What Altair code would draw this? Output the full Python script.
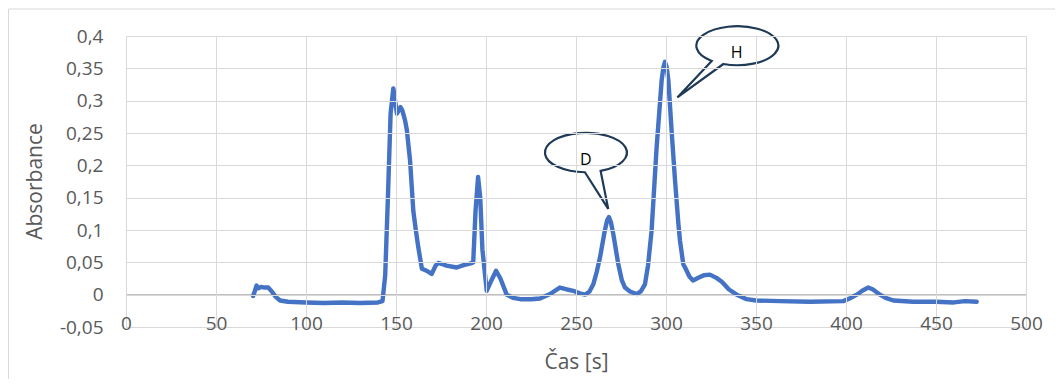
import altair as alt
import pandas as pd

# ---- data ----
time_s = [70.6, 71.5, 72.5, 73.5, 75, 77, 79, 81, 83, 85.6, 90, 100, 110, 120, 130, 140,
          142.5, 144, 145.5, 147, 148.5, 149.5, 150.5, 151.5, 152.5, 153.5, 155, 156, 157.8,
          159.6, 161, 162.4, 164.4, 167, 169.8, 172, 173.5, 176, 178, 183.7, 188, 191, 192.9,
          194.2, 195.6, 196.8, 198, 200.4, 203, 205.6, 208, 211.5, 215, 219, 225, 230, 235.6,
          241, 245, 248.5, 252, 255, 257.5, 259.6, 261.5, 263.3, 266, 267.3, 268.3, 269.4,
          270.7, 273.5, 275.5, 277.2, 280, 283.7, 286, 288.3, 290, 292, 294.8, 297.6, 298.6,
          299.4, 300.3, 301.3, 303.1, 305, 306.9, 307.8, 309.6, 310.6, 313, 315, 318, 321,
          324.4, 328, 331, 335, 339.3, 344.8, 350, 363, 380, 398.5, 402, 406, 409, 412.4, 415,
          418.9, 422, 426.3, 437.4, 450, 460, 466, 472.6]
absorbance = [-0.002, 0.005, 0.014, 0.010, 0.012, 0.011, 0.011, 0.005, -0.003, -0.009, -0.011,
              -0.012, -0.013, -0.012, -0.013, -0.012, -0.010, 0.03, 0.15, 0.28, 0.319, 0.30,
              0.280, 0.285, 0.290, 0.285, 0.27, 0.255, 0.208, 0.13, 0.10, 0.073, 0.040, 0.037,
              0.032, 0.045, 0.049, 0.047, 0.045, 0.042, 0.046, 0.048, 0.05, 0.13, 0.182, 0.15,
              0.07, 0.006, 0.022, 0.037, 0.025, 0.0, -0.005, -0.007, -0.007, -0.006, 0.001,
              0.011, 0.008, 0.006, 0.002, 0.0, 0.005, 0.016, 0.035, 0.057, 0.099, 0.115, 0.12,
              0.112, 0.094, 0.047, 0.022, 0.011, 0.005, 0.001, 0.005, 0.016, 0.045, 0.099,
              0.228, 0.332, 0.352, 0.360, 0.353, 0.332, 0.254, 0.177, 0.109, 0.083, 0.047,
              0.042, 0.028, 0.022, 0.026, 0.03, 0.031, 0.026, 0.02, 0.008, 0.0, -0.007, -0.009,
              -0.01, -0.011, -0.01, -0.006, 0.0, 0.006, 0.011, 0.008, 0.0, -0.005, -0.009,
              -0.011, -0.011, -0.012, -0.010, -0.011]

x_ticks = [0, 50, 100, 150, 200, 250, 300, 350, 400, 450, 500]
y_ticks = [-0.05, 0, 0.05, 0.1, 0.15, 0.2, 0.25, 0.3, 0.35, 0.4]

# callouts: label, tip position (time, absorbance), text position
callout_label = ["H", "D"]
callout_tip_t = [306.3, 267.9]
callout_tip_a = [0.305, 0.1327]
callout_text_t = [339.3, 255.4]
callout_text_a = [0.373, 0.209]
# bubble outlines (ellipse + tail) relative to the tip, in units of 100 px
callout_path = [
    "M0,0 L0.344,-0.365 A0.41,0.195 0 1 1 0.46,-0.334 Z",
    "M0,0 L-0.233,-0.366 A0.41,0.197 0 1 1 -0.076,-0.379 Z",
]

FONT = "Open Sans"
GRID = "#D9D9D9"
TEXT = "#595959"
LABEL_SIZE = 19
TITLE_SIZE = 21

df = pd.DataFrame({"t": time_s, "a": absorbance})
ann = pd.DataFrame({"label": callout_label, "tt": callout_tip_t, "ta": callout_tip_a,
                    "xt": callout_text_t, "xa": callout_text_a, "path": callout_path})
lab_bg = pd.DataFrame({"t": x_ticks, "a": [-0.05] * len(x_ticks),
                       "box": ["M-%.2f,-0.9 H%.2f V0.9 H-%.2f Z" % (w, w, w)
                               for w in [len(str(v)) * 0.62 + 0.3 for v in x_ticks]]})

xscale = alt.Scale(domain=[0, 500], nice=False, zero=False)
yscale = alt.Scale(domain=[-0.05, 0.4], nice=False, zero=False)

xaxis = alt.Axis(values=x_ticks, tickCount=len(x_ticks), title="Čas [s]", grid=True,
                 gridColor=GRID, gridWidth=1,
                 domain=False, ticks=False, tickSize=0, labelFlush=False, labelOverlap=False,
                 labelFont=FONT, labelFontSize=LABEL_SIZE, labelColor=TEXT, labelPadding=-4,
                 labelBaseline="middle",
                 titleFont=FONT, titleFontSize=TITLE_SIZE, titleColor=TEXT,
                 titleFontWeight="normal", titleY=35, titleBaseline="middle", zindex=1)
yaxis = alt.Axis(values=y_ticks, tickCount=len(y_ticks), title="Absorbance", grid=True,
                 gridColor=GRID, gridWidth=1,
                 domain=False, ticks=False, tickSize=0, labelFlush=False, labelOverlap=False,
                 labelExpr="replace(toString(datum.value), '.', ',')",
                 labelFont=FONT, labelFontSize=LABEL_SIZE, labelColor=TEXT, labelPadding=23,
                 titleFont=FONT, titleFontSize=TITLE_SIZE, titleColor=TEXT,
                 titleFontWeight="normal",
                 titleX=-91, titleY=145, titleAngle=-90, titleBaseline="middle",
                 titleAlign="center", zindex=1)

border = alt.Chart(pd.DataFrame({"k": [0]})).mark_rect(
    fill=None, stroke=GRID, strokeWidth=1, clip=False
).encode(x=alt.value(-117.5), x2=alt.value(1200), y=alt.value(-27), y2=alt.value(500))

zero_line = alt.Chart(pd.DataFrame({"a": [0]})).mark_rule(
    color="#BFBFBF", strokeWidth=1.2
).encode(y=alt.Y("a:Q", scale=yscale, axis=yaxis))

label_boxes = alt.Chart(lab_bg).mark_point(
    filled=True, fill="white", stroke=None, opacity=1, size=100, clip=False
).encode(
    x=alt.X("t:Q", scale=xscale, axis=xaxis),
    y=alt.Y("a:Q", scale=yscale, axis=yaxis),
    shape=alt.Shape("box:N", scale=None, legend=None),
)

line = alt.Chart(df).mark_line(color="#4472C4", strokeWidth=4.4, strokeJoin="round",
                               strokeCap="round").encode(
    x=alt.X("t:Q", scale=xscale, axis=xaxis),
    y=alt.Y("a:Q", scale=yscale, axis=yaxis),
)

bubbles = alt.Chart(ann).mark_point(
    filled=False, fill="white", fillOpacity=1, stroke="#1F3A56", strokeWidth=2.2,
    opacity=1, size=40000, clip=False
).encode(
    x=alt.X("tt:Q", scale=xscale),
    y=alt.Y("ta:Q", scale=yscale),
    shape=alt.Shape("path:N", scale=None, legend=None),
)

bubble_text = alt.Chart(ann).mark_text(
    font=FONT, fontSize=16, color="#000000", align="center", baseline="middle"
).encode(
    x=alt.X("xt:Q", scale=xscale),
    y=alt.Y("xa:Q", scale=yscale),
    text="label:N",
)

chart = alt.layer(border, zero_line, label_boxes, line, bubbles, bubble_text).properties(
    width=900, height=291,
    padding={"left": 118, "top": 28, "right": 29, "bottom": 52},
    autosize=alt.AutoSizeParams(type="none"),
    background="white",
).configure_view(stroke=None)

chart.save("out.html", embed_options={"renderer": "svg", "actions": False})
